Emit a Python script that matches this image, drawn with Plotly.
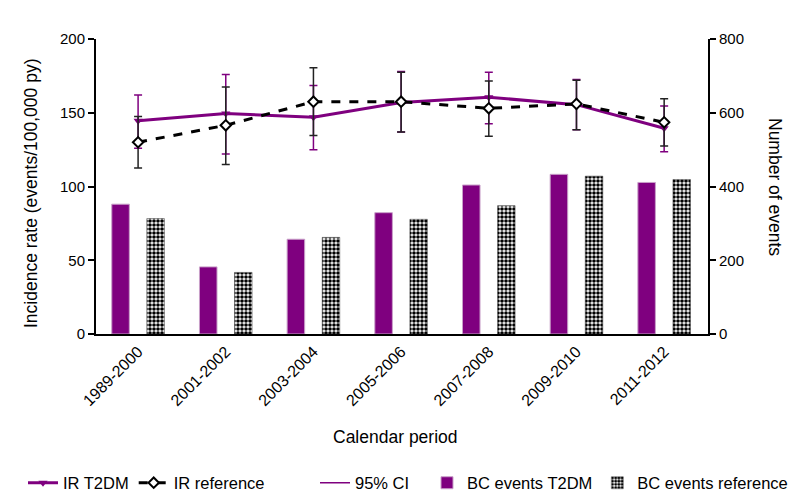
import plotly.graph_objects as go

# Calendar periods on the x axis
periods = ["1989-2000", "2001-2002", "2003-2004", "2005-2006",
           "2007-2008", "2009-2010", "2011-2012"]

# Incidence rates (events/100,000 py) with 95% confidence limits
ir_t2dm = [144.5, 149.5, 147.0, 157.0, 160.5, 155.5, 139.5]
ir_t2dm_lo = [126.0, 122.0, 125.0, 137.0, 142.5, 138.5, 123.5]
ir_t2dm_hi = [162.0, 176.0, 168.5, 178.0, 177.5, 172.5, 154.5]

ir_ref = [130.0, 141.5, 157.5, 157.5, 153.0, 156.0, 143.5]
ir_ref_lo = [112.5, 115.0, 134.5, 137.0, 134.0, 138.5, 127.5]
ir_ref_hi = [147.5, 167.5, 180.5, 177.5, 171.5, 172.0, 159.5]

# Number of breast cancer events
bc_t2dm = [352, 182, 257, 329, 404, 433, 411]
bc_ref = [313, 167, 262, 311, 348, 428, 419]

PURPLE = "#7f007f"
FONT = "Arial, Liberation Sans, sans-serif"
W, H = 798, 499
LEGEND_Y = (H - 483) / H

fig = go.Figure()

# Event counts as bars (right-hand axis)
fig.add_trace(go.Bar(
    x=periods, y=bc_t2dm, name="BC events T2DM", yaxis="y",
    width=0.2, offset=-0.3, legend="legend3",
    marker=dict(color=PURPLE, line=dict(color="#c9a0c9", width=1)),
))
fig.add_trace(go.Bar(
    x=periods, y=bc_ref, name="BC events reference", yaxis="y",
    width=0.2, offset=0.1, legend="legend3",
    marker=dict(color="white", line=dict(color="#333333", width=0.5),
                pattern=dict(shape=".", fgcolor="black", bgcolor="white",
                             fgopacity=1, size=4, solidity=0.65)),
))


def err(vals, lo, hi):
    return dict(type="data", symmetric=False,
                array=[h - v for v, h in zip(vals, hi)],
                arrayminus=[v - l for v, l in zip(vals, lo)])


# Incidence rates as lines (left-hand axis)
e = err(ir_t2dm, ir_t2dm_lo, ir_t2dm_hi)
e.update(color=PURPLE, thickness=1.5, width=4)
fig.add_trace(go.Scatter(
    x=periods, y=ir_t2dm, name="IR T2DM", yaxis="y2", legend="legend",
    mode="lines+markers",
    line=dict(color=PURPLE, width=3),
    marker=dict(symbol="triangle-down", size=8, color=PURPLE),
    error_y=e, legendrank=1,
))

e = err(ir_ref, ir_ref_lo, ir_ref_hi)
e.update(color="#222222", thickness=1.5, width=4)
fig.add_trace(go.Scatter(
    x=periods, y=ir_ref, name="IR reference", yaxis="y2", legend="legend",
    mode="lines+markers",
    line=dict(color="black", width=3, dash="dash"),
    marker=dict(symbol="diamond", size=8, color="white",
                line=dict(color="black", width=2)),
    error_y=e, legendrank=2,
))

# Legend entry for the confidence intervals
fig.add_trace(go.Scatter(
    x=[None], y=[None], name="95% CI", yaxis="y2", legend="legend2",
    mode="lines", line=dict(color=PURPLE, width=1.5),
))

axis_common = dict(showline=True, linecolor="black", linewidth=2,
                   showgrid=False, zeroline=False, automargin=False)


def legend_at(left_px):
    return dict(orientation="h", xref="container", yref="container",
                x=left_px / W, xanchor="left",
                y=LEGEND_Y, yanchor="middle",
                font=dict(size=16.5), itemwidth=30,
                traceorder="normal", bgcolor="rgba(0,0,0,0)")


fig.update_layout(
    width=W, height=H,
    margin=dict(l=96, r=90, t=39, b=165),
    paper_bgcolor="white", plot_bgcolor="white",
    font=dict(family=FONT, size=15, color="black"),
    barmode="overlay",
    showlegend=True,
    legend=legend_at(23),
    legend2=legend_at(315),
    legend3=legend_at(427),
    xaxis=dict(range=[-0.48, 6.5], ticks="", tickangle=-45,
               tickfont=dict(size=16), **axis_common),
    yaxis=dict(side="right", range=[0, 800],
               tickvals=[0, 200, 400, 600, 800],
               ticks="outside", ticklen=6, tickwidth=2, tickcolor="black",
               **axis_common),
    yaxis2=dict(overlaying="y", side="left", anchor="x",
                range=[0, 200], tickvals=[0, 50, 100, 150, 200],
                ticks="outside", ticklen=6, tickwidth=2, tickcolor="black",
                **axis_common),
    annotations=[
        dict(text="Incidence rate (events/100,000 py)", textangle=-90,
             xref="paper", yref="paper", x=(31 - 96) / 612,
             y=(334 - 194) / 295, showarrow=False,
             xanchor="center", yanchor="middle", font=dict(size=17.5)),
        dict(text="Number of events", textangle=90,
             xref="paper", yref="paper", x=(775 - 96) / 612,
             y=(334 - 187) / 295, showarrow=False,
             xanchor="center", yanchor="middle", font=dict(size=17.5)),
        dict(text="Calendar period",
             xref="paper", yref="paper", x=(395 - 96) / 612,
             y=(334 - 437) / 295, showarrow=False,
             xanchor="center", yanchor="middle", font=dict(size=17.5)),
    ],
)

fig.write_html("out.html")
